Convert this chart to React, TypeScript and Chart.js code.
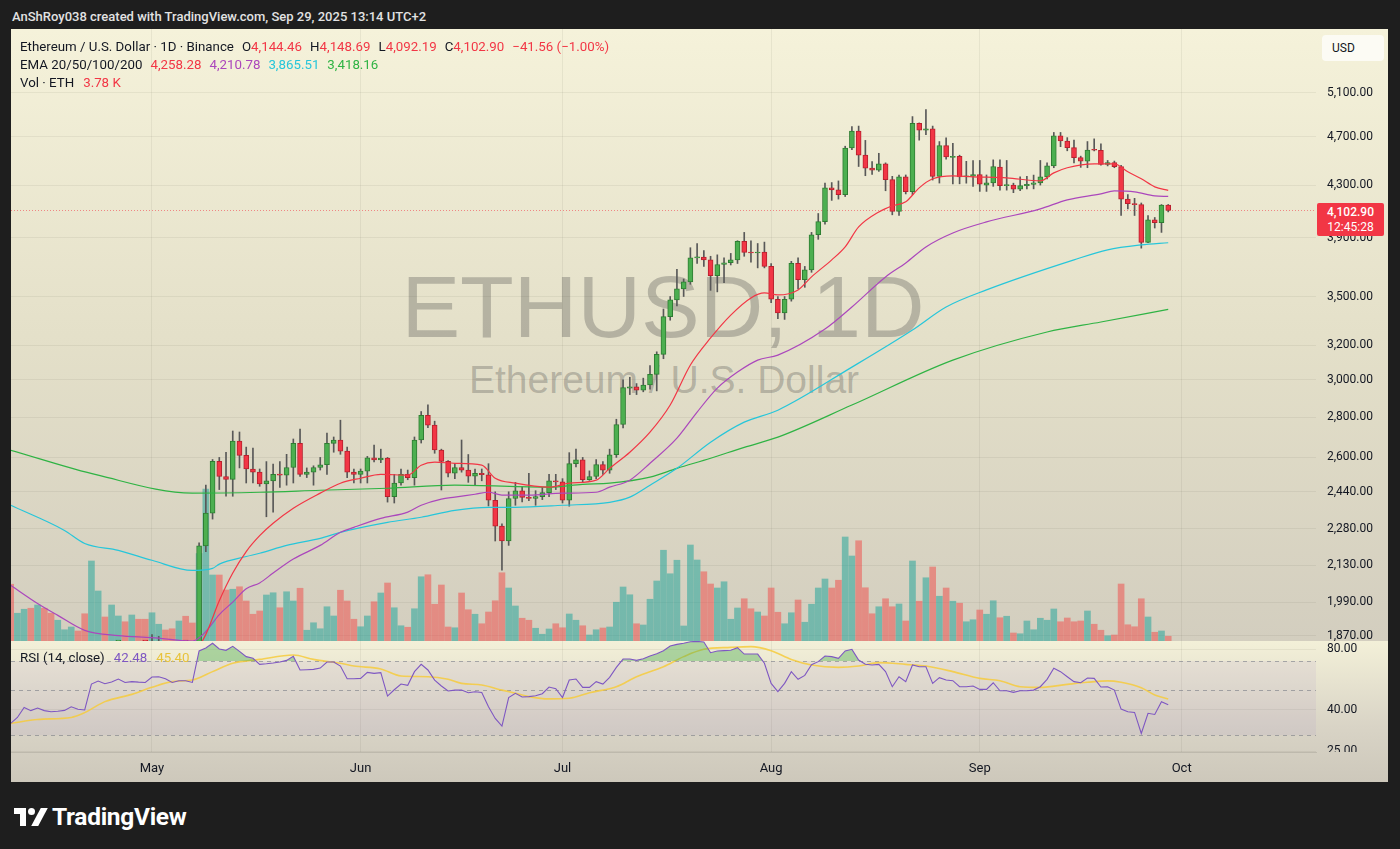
import React, { useEffect, useRef } from 'react';
import { Chart, registerables } from 'chart.js';

Chart.register(...registerables);

// Day index: 0 = 1 May 2025. First candle = 10 Apr 2025 (day -21), last = 29 Sep 2025 (day 151).
const FIRST_DAY = -21;

const opens = [
  1667, 1522, 1566, 1645, 1595, 1624, 1588, 1577, 1583, 1589,
  1613, 1587, 1578, 1757, 1796, 1770, 1787, 1790, 1785, 1799,
  1795, 1793, 1838, 1842, 1833, 1807, 1816, 1815, 1811, 2208,
  2346, 2581, 2510, 2497, 2680, 2610, 2545, 2530, 2476, 2490,
  2520, 2516, 2552, 2668, 2520, 2530, 2552, 2565, 2668, 2685,
  2630, 2530, 2520, 2535, 2598, 2588, 2597, 2418, 2480, 2520,
  2505, 2685, 2810, 2760, 2636, 2581, 2525, 2552, 2540, 2512,
  2525, 2518, 2402, 2290, 2228, 2410, 2444, 2415, 2410, 2418,
  2436, 2490, 2485, 2402, 2570, 2588, 2495, 2510, 2566, 2540,
  2613, 2763, 2955, 2962, 2944, 2972, 3031, 3145, 3372, 3478,
  3550, 3596, 3759, 3765, 3745, 3637, 3713, 3725, 3745, 3876,
  3797, 3793, 3800, 3700, 3482, 3396, 3482, 3722, 3611, 3677,
  3923, 4019, 4279, 4262, 4225, 4605, 4750, 4545, 4437, 4420,
  4472, 4344, 4096, 4366, 4248, 4820, 4760, 4770, 4369, 4625,
  4525, 4535, 4366, 4372, 4385, 4300, 4318, 4445, 4295, 4300,
  4268, 4296, 4305, 4318, 4366, 4455, 4709, 4665, 4608, 4523,
  4495, 4590, 4586, 4468, 4482, 4449, 4190, 4155, 4148, 3868,
  4032, 4012, 4144.46,
];
const highs = [
  1690, 1582, 1660, 1690, 1690, 1660, 1615, 1613, 1596, 1620,
  1617, 1659, 1785, 1830, 1800, 1826, 1830, 1840, 1830, 1840,
  1830, 1874, 1868, 1848, 1850, 1830, 1830, 1845, 2220, 2470,
  2590, 2600, 2625, 2730, 2725, 2650, 2645, 2545, 2580, 2568,
  2580, 2615, 2690, 2740, 2550, 2560, 2600, 2720, 2700, 2785,
  2650, 2545, 2545, 2605, 2660, 2640, 2600, 2520, 2545, 2540,
  2700, 2830, 2865, 2780, 2640, 2585, 2570, 2685, 2614, 2545,
  2545, 2570, 2440, 2300, 2440, 2483, 2462, 2525, 2445, 2460,
  2520, 2520, 2500, 2623, 2640, 2600, 2536, 2590, 2580, 2640,
  2790, 3000, 3015, 2980, 3010, 3080, 3160, 3420, 3500, 3680,
  3615, 3830, 3860, 3810, 3770, 3780, 3760, 3790, 3880, 3940,
  3880, 3860, 3870, 3720, 3500, 3500, 3735, 3760, 3700, 3940,
  4080, 4316, 4320, 4333, 4620, 4790, 4795, 4670, 4490, 4560,
  4480, 4370, 4380, 4381, 4880, 4823, 4943, 4795, 4660, 4692,
  4644, 4544, 4493, 4500, 4500, 4381, 4505, 4505, 4500, 4315,
  4365, 4370, 4380, 4500, 4480, 4739, 4739, 4694, 4673, 4536,
  4660, 4683, 4640, 4500, 4495, 4460, 4225, 4196, 4160, 4065,
  4050, 4148, 4148.69,
];
const lows = [
  1470, 1505, 1540, 1575, 1590, 1580, 1537, 1565, 1576, 1584,
  1565, 1555, 1566, 1750, 1740, 1745, 1780, 1770, 1740, 1780,
  1755, 1790, 1825, 1825, 1800, 1780, 1752, 1780, 1800, 2185,
  2320, 2450, 2420, 2420, 2550, 2480, 2480, 2465, 2330, 2350,
  2460, 2470, 2480, 2510, 2505, 2470, 2540, 2520, 2625, 2615,
  2505, 2480, 2480, 2480, 2578, 2575, 2394, 2390, 2470, 2495,
  2470, 2670, 2747, 2620, 2448, 2508, 2500, 2530, 2483, 2470,
  2490, 2377, 2228, 2111, 2210, 2380, 2395, 2400, 2380, 2405,
  2418, 2450, 2390, 2376, 2555, 2485, 2492, 2500, 2520, 2525,
  2600, 2745, 2920, 2920, 2935, 2950, 2940, 3120, 3350, 3440,
  3500, 3580, 3720, 3700, 3540, 3530, 3590, 3710, 3720, 3770,
  3730, 3690, 3690, 3460, 3360, 3355, 3470, 3550, 3560, 3660,
  3890, 4000, 4180, 4190, 4210, 4590, 4450, 4375, 4385, 4410,
  4255, 4070, 4065, 4230, 4225, 4672, 4720, 4340, 4316, 4510,
  4310, 4310, 4315, 4290, 4250, 4250, 4290, 4260, 4260, 4240,
  4255, 4270, 4270, 4300, 4350, 4440, 4616, 4581, 4480, 4443,
  4440, 4580, 4460, 4455, 4440, 4066, 4114, 4065, 3827, 3866,
  3972, 3940, 4092.19,
];
const closes = [
  1522, 1566, 1645, 1595, 1624, 1588, 1577, 1583, 1589, 1613,
  1587, 1578, 1757, 1796, 1770, 1787, 1790, 1785, 1799, 1795,
  1793, 1838, 1842, 1833, 1807, 1816, 1815, 1811, 2208, 2346,
  2581, 2510, 2497, 2680, 2610, 2545, 2530, 2476, 2490, 2520,
  2516, 2552, 2668, 2520, 2530, 2552, 2565, 2668, 2685, 2630,
  2530, 2520, 2535, 2598, 2588, 2597, 2418, 2480, 2520, 2505,
  2685, 2810, 2760, 2636, 2581, 2525, 2552, 2540, 2512, 2525,
  2518, 2402, 2290, 2228, 2410, 2444, 2415, 2410, 2418, 2436,
  2490, 2485, 2402, 2570, 2588, 2495, 2510, 2566, 2540, 2613,
  2763, 2958, 2962, 2944, 2972, 3031, 3145, 3372, 3478, 3550,
  3596, 3759, 3765, 3745, 3637, 3713, 3725, 3745, 3876, 3797,
  3793, 3800, 3700, 3482, 3396, 3482, 3722, 3611, 3677, 3923,
  4019, 4279, 4262, 4225, 4605, 4750, 4545, 4437, 4420, 4472,
  4344, 4096, 4366, 4248, 4820, 4760, 4770, 4369, 4625, 4530,
  4535, 4366, 4372, 4385, 4308, 4318, 4450, 4295, 4300, 4268,
  4296, 4305, 4318, 4366, 4455, 4709, 4665, 4608, 4523, 4495,
  4588, 4586, 4468, 4482, 4449, 4190, 4155, 4148, 3868, 4032,
  4012, 4144.46, 4102.9,
];
// Volume in thousands of ETH
const volumesK = [
  45.4, 22.2, 25.4, 26.2, 28.8, 26.2, 22.2, 16.6, 9.0, 11.2,
  8.0, 21.8, 64.0, 40.0, 19.2, 28.8, 20.0, 15.4, 20.8, 17.4,
  17.4, 22.6, 13.4, 8.8, 9.8, 16.0, 19.8, 14.4, 70.0, 121.6,
  52.8, 52.8, 40.8, 41.4, 43.4, 32.0, 21.4, 24.0, 36.8, 38.6,
  26.6, 39.4, 32.0, 42.2, 8.6, 14.6, 9.8, 27.4, 20.0, 40.6,
  32.0, 17.4, 11.4, 20.0, 31.4, 38.4, 46.4, 26.6, 12.2, 11.0,
  25.8, 51.4, 53.0, 29.4, 44.8, 11.2, 10.6, 38.4, 25.0, 21.4,
  13.8, 23.2, 32.2, 54.6, 42.4, 28.0, 18.2, 16.6, 10.2, 5.4,
  9.6, 13.8, 10.6, 21.6, 16.6, 12.2, 4.8, 9.0, 10.4, 11.2,
  31.0, 43.2, 37.0, 13.8, 12.8, 33.4, 48.0, 72.6, 53.8, 64.6,
  12.0, 76.8, 64.8, 55.4, 45.6, 42.4, 47.4, 17.4, 26.4, 33.8,
  25.8, 23.2, 20.0, 42.4, 23.0, 13.8, 22.6, 32.8, 15.0, 29.4,
  42.4, 49.6, 42.4, 48.6, 83.2, 68.0, 80.2, 42.6, 21.8, 27.4,
  33.8, 27.4, 29.6, 16.0, 64.0, 31.8, 50.6, 59.2, 35.8, 42.4,
  31.8, 30.2, 15.4, 17.0, 24.8, 21.4, 32.2, 18.6, 19.8, 6.4,
  5.8, 16.0, 9.0, 18.2, 16.6, 25.6, 15.4, 18.4, 15.4, 16.0,
  24.0, 13.4, 8.6, 4.2, 4.8, 45.6, 13.0, 11.4, 33.8, 19.2,
  7.0, 8.0, 3.78,
];
const rsi14 = [
  34.3, 36.7, 41.2, 39.7, 40.9, 39.7, 39.2, 39.4, 39.8, 41.5,
  40.3, 40.0, 53.8, 55.7, 54.0, 55.1, 57.0, 54.8, 55.3, 55.0,
  54.8, 58.3, 58.5, 57.2, 54.8, 55.9, 55.9, 54.8, 78.5, 81.2,
  85.7, 80.3, 79.1, 82.8, 78.2, 73.6, 72.2, 67.4, 67.8, 68.4,
  69.2, 70.5, 73.8, 63.2, 63.4, 63.6, 64.6, 69.2, 69.2, 66.1,
  57.2, 57.2, 57.4, 61.5, 60.8, 61.3, 46.9, 50.4, 53.8, 53.0,
  62.0, 67.4, 63.2, 56.3, 52.6, 49.7, 50.2, 50.2, 48.7, 49.3,
  48.9, 41.5, 36.3, 33.3, 46.1, 48.4, 46.4, 46.6, 47.1, 48.2,
  52.0, 51.0, 46.1, 56.3, 57.0, 51.8, 51.8, 55.3, 53.8, 58.1,
  65.1, 71.6, 71.6, 70.5, 71.9, 74.1, 76.0, 78.8, 83.1, 84.7,
  85.7, 87.3, 87.6, 87.0, 77.0, 78.5, 78.8, 79.1, 81.5, 75.8,
  75.8, 75.8, 68.2, 54.2, 49.3, 54.2, 62.0, 56.8, 59.4, 67.1,
  69.5, 74.1, 73.6, 72.2, 78.5, 80.0, 70.8, 67.4, 66.9, 67.4,
  62.0, 52.2, 58.5, 55.3, 66.9, 65.6, 65.6, 54.2, 57.9, 56.3,
  55.9, 52.2, 52.2, 52.6, 50.6, 50.6, 54.6, 49.8, 49.8, 48.9,
  49.8, 49.8, 50.2, 52.2, 56.8, 64.4, 62.0, 58.5, 55.3, 54.6,
  57.6, 57.4, 52.0, 52.2, 50.2, 40.4, 39.2, 38.9, 30.6, 38.5,
  38.0, 44.0, 42.48,
];
const rsiMaDays = [-21, -17, -12, -10, -7, -3, 0, 3, 6, 9, 12, 16, 21, 24, 28, 30, 34, 37, 41, 44, 46, 49, 52, 54, 56, 59, 62, 65, 69, 72, 76, 79, 82, 86, 89, 92, 95, 98, 102, 105, 108, 112, 115, 119, 123, 126, 129, 132, 136, 139, 142, 144, 147, 149, 151];
const rsiMaVals = [34.3, 35.9, 36.7, 38.8, 44.0, 47.8, 51.8, 55.3, 56.3, 62.0, 68.2, 71.3, 75.0, 71.3, 68.2, 66.1, 63.9, 59.0, 58.5, 56.8, 54.2, 53.2, 50.2, 48.4, 46.6, 45.4, 45.7, 48.7, 52.2, 58.5, 65.6, 73.6, 80.0, 81.8, 82.5, 78.8, 71.3, 66.9, 65.1, 66.1, 68.7, 67.4, 66.1, 62.0, 57.4, 55.9, 52.2, 51.8, 53.6, 54.9, 55.8, 54.9, 51.6, 47.5, 45.4];

const ema20Days = [-21, -10, -5, 0, 6, 8, 10, 12, 14, 16, 18, 21, 25, 28, 31, 34, 38, 40, 42, 45, 49, 51, 54, 59, 62, 66, 68, 71, 74, 77, 80, 83, 86, 89, 91, 93, 96, 98, 101, 103, 105, 108, 110, 112, 114, 116, 119, 122, 127, 132, 134, 136, 140, 143, 145, 147, 149, 151];
const ema20Vals = [1650, 1610, 1700, 1770, 1805, 1875, 1995, 2100, 2185, 2250, 2302, 2367, 2434, 2479, 2502, 2520, 2516, 2563, 2577, 2572, 2563, 2502, 2479, 2461, 2479, 2493, 2548, 2625, 2724, 2864, 3084, 3242, 3382, 3491, 3523, 3510, 3543, 3629, 3745, 3836, 3980, 4092, 4138, 4169, 4278, 4350, 4374, 4366, 4358, 4334, 4398, 4440, 4472, 4472, 4407, 4350, 4286, 4258.28];
const ema50Days = [-21, -17, -14, -10, -5, 0, 6, 8, 10, 12, 14, 16, 18, 21, 25, 28, 30, 34, 38, 40, 43, 45, 48, 50, 52, 56, 61, 66, 68, 71, 74, 78, 81, 84, 87, 90, 93, 100, 104, 109, 112, 115, 119, 124, 132, 136, 141, 143, 146, 149, 151];
const ema50Vals = [2053, 1985, 1942, 1889, 1871, 1864, 1852, 1885, 1945, 1990, 2040, 2062, 2100, 2155, 2210, 2264, 2285, 2323, 2350, 2380, 2407, 2416, 2429, 2438, 2425, 2425, 2434, 2438, 2461, 2493, 2572, 2694, 2827, 2955, 3044, 3112, 3141, 3296, 3433, 3629, 3724, 3836, 3936, 4017, 4115, 4184, 4231, 4254, 4247, 4215, 4210.78];
const ema100Days = [-21, -13, -10, -5, 0, 6, 9, 10, 14, 16, 20, 25, 28, 35, 40, 45, 50, 54, 61, 68, 71, 74, 78, 83, 88, 93, 104, 113, 118, 124, 137, 142, 147, 151];
const ema100Vals = [2380, 2272, 2218, 2190, 2150, 2110, 2118, 2135, 2165, 2178, 2210, 2239, 2264, 2306, 2328, 2358, 2371, 2371, 2380, 2393, 2416, 2470, 2548, 2674, 2775, 2837, 3072, 3290, 3433, 3543, 3745, 3815, 3850, 3865.51];
const ema200Days = [-21, -8, 6, 16, 25, 35, 45, 59, 64, 68, 74, 78, 83, 88, 93, 104, 119, 133, 141, 151];
const ema200Vals = [2635, 2516, 2434, 2438, 2447, 2456, 2470, 2461, 2474, 2479, 2507, 2548, 2596, 2649, 2699, 2864, 3112, 3278, 3339, 3418.16];

const monthDays = [0, 31, 61, 92, 123, 153];
const monthLabels = ['May', 'Jun', 'Jul', 'Aug', 'Sep', 'Oct'];
const priceTicks = [5100, 4700, 4300, 3900, 3500, 3200, 3000, 2800, 2600, 2440, 2280, 2130, 1990, 1870];
const rsiTicks = [80, 40, 25];
const rsiLevels = [70, 50, 30];

const X_MIN = -20.95;
const X_MAX = 172.96;
const PRICE_MIN = 1852.2;
const PRICE_MAX = 5736.9;
const VOL_MAX = 489.6;
const RSI_MIN = 24.74;
const RSI_MAX = 88.0;

const FONT = 'Roboto, "Noto Sans", Arial, sans-serif';
const TEXT = '#131722';
const UP = '#4caf50';
const DOWN = '#f23645';
const GRID = 'rgba(60,60,40,0.07)';

const fmtPrice = (v: number) =>
  v.toLocaleString('en-US', { minimumFractionDigits: 2, maximumFractionDigits: 2 });

const days = opens.map((_, i) => FIRST_DAY + i);
const isUp = closes.map((c, i) => c >= opens[i]);
const pts = (ds: number[], vs: number[]) => ds.map((d, i) => ({ x: d, y: vs[i] }));

const emaLine = (label: string, ds: number[], vs: number[], color: string, order: number) => ({
  type: 'line' as const,
  label,
  data: pts(ds, vs),
  borderColor: color,
  borderWidth: 1.2,
  pointRadius: 0,
  cubicInterpolationMode: 'monotone' as const,
  fill: false,
  yAxisID: 'y',
  order,
});

const mainPlugin = {
  id: 'mainDecor',
  beforeDatasetsDraw(chart: any) {
    const { ctx, chartArea: a, scales } = chart;
    const y = Math.round(scales.y.getPixelForValue(closes[closes.length - 1])) + 0.5;
    ctx.save();
    ctx.strokeStyle = 'rgba(242,54,69,0.55)';
    ctx.lineWidth = 1;
    ctx.setLineDash([1, 2]);
    ctx.beginPath();
    ctx.moveTo(a.left, y);
    ctx.lineTo(a.right, y);
    ctx.stroke();
    ctx.restore();
  },
  afterDraw(chart: any) {
    const { ctx, chartArea: a, scales } = chart;
    ctx.save();
    ctx.beginPath();
    ctx.rect(a.right, 0, chart.width - a.right, chart.height);
    ctx.clip();
    ctx.font = `12px ${FONT}`;
    ctx.fillStyle = TEXT;
    ctx.textAlign = 'left';
    ctx.textBaseline = 'middle';
    priceTicks.forEach((v) => ctx.fillText(fmtPrice(v), a.right + 11, scales.y.getPixelForValue(v)));
    ctx.restore();
  },
};

const rsiPlugin = {
  id: 'rsiDecor',
  beforeDatasetsDraw(chart: any) {
    const { ctx, chartArea: a, scales } = chart;
    const ys = scales.y;
    const y70 = ys.getPixelForValue(70);
    const y30 = ys.getPixelForValue(30);
    ctx.save();
    ctx.fillStyle = 'rgba(126,87,194,0.07)';
    ctx.fillRect(a.left, y70, a.right - a.left, y30 - y70);
    ctx.strokeStyle = 'rgba(120,123,134,0.6)';
    ctx.lineWidth = 1;
    ctx.setLineDash([4, 4]);
    rsiLevels.forEach((l) => {
      const y = Math.round(ys.getPixelForValue(l)) + 0.5;
      ctx.beginPath();
      ctx.moveTo(a.left, y);
      ctx.lineTo(a.right, y);
      ctx.stroke();
    });
    ctx.restore();
  },
  afterDraw(chart: any) {
    const { ctx, chartArea: a, scales } = chart;
    ctx.save();
    ctx.beginPath();
    ctx.rect(a.right, 0, chart.width - a.right, a.bottom);
    ctx.clip();
    ctx.font = `12px ${FONT}`;
    ctx.fillStyle = TEXT;
    ctx.textAlign = 'left';
    ctx.textBaseline = 'middle';
    rsiTicks.forEach((v) => ctx.fillText(v.toFixed(2), a.right + 11, scales.y.getPixelForValue(v)));
    ctx.restore();
    ctx.save();
    ctx.font = `13px ${FONT}`;
    ctx.fillStyle = TEXT;
    ctx.textAlign = 'center';
    ctx.textBaseline = 'middle';
    monthDays.forEach((d, i) => ctx.fillText(monthLabels[i], scales.x.getPixelForValue(d), a.bottom + 16.5));
    ctx.restore();
  },
};

export default function App() {
  const mainRef = useRef<HTMLCanvasElement | null>(null);
  const rsiRef = useRef<HTMLCanvasElement | null>(null);

  useEffect(() => {
    const xScale = (h: number) => ({
      type: 'linear' as const,
      min: X_MIN,
      max: X_MAX,
      offset: false,
      afterBuildTicks: (s: any) => {
        s.ticks = monthDays.map((v) => ({ value: v }));
      },
      ticks: { display: false },
      grid: { color: GRID, drawTicks: false, offset: false },
      border: { display: h > 0, color: 'rgba(0,0,0,0.1)' },
      afterFit: (s: any) => {
        s.height = h;
      },
    });

    const main = new Chart(mainRef.current as HTMLCanvasElement, {
      type: 'bar',
      data: {
        datasets: [
          emaLine('EMA 20', ema20Days, ema20Vals, '#f23645', 1),
          emaLine('EMA 50', ema50Days, ema50Vals, '#ab47bc', 2),
          emaLine('EMA 100', ema100Days, ema100Vals, '#26c6da', 3),
          emaLine('EMA 200', ema200Days, ema200Vals, '#2fb344', 4),
          {
            type: 'bar',
            label: 'Body',
            data: days.map((d, i) => ({ x: d, y: [Math.min(opens[i], closes[i]), Math.max(opens[i], closes[i])] })),
            backgroundColor: isUp.map((u) => (u ? UP : DOWN)),
            borderColor: isUp.map((u) => (u ? '#2e7d32' : '#b8202e')),
            borderWidth: 1,
            borderSkipped: false,
            barThickness: 5,
            minBarLength: 1,
            grouped: false,
            yAxisID: 'y',
            order: 5,
          } as any,
          {
            type: 'bar',
            label: 'Wick',
            data: days.map((d, i) => ({ x: d, y: [lows[i], highs[i]] })),
            backgroundColor: '#585858',
            barThickness: 1,
            grouped: false,
            yAxisID: 'y',
            order: 6,
          } as any,
          {
            type: 'bar',
            label: 'Volume',
            data: days.map((d, i) => ({ x: d, y: volumesK[i] })),
            backgroundColor: isUp.map((u) => (u ? 'rgba(38,166,154,0.55)' : 'rgba(239,83,80,0.55)')),
            barThickness: 6,
            grouped: false,
            yAxisID: 'yv',
            order: 10,
          } as any,
        ],
      },
      options: {
        responsive: false,
        animation: false,
        devicePixelRatio: 1,
        events: [],
        layout: { padding: 0 },
        plugins: { legend: { display: false }, tooltip: { enabled: false } },
        scales: {
          x: xScale(0) as any,
          y: {
            type: 'logarithmic',
            position: 'right',
            min: PRICE_MIN,
            max: PRICE_MAX,
            afterBuildTicks: (s: any) => {
              s.ticks = priceTicks.map((v) => ({ value: v }));
            },
            ticks: { display: false },
            grid: { color: GRID, drawTicks: false },
            border: { display: false },
            afterFit: (s: any) => {
              s.width = 72;
            },
          } as any,
          yv: { type: 'linear', display: false, min: 0, max: VOL_MAX },
        },
      },
      plugins: [mainPlugin],
    });

    const rsi = new Chart(rsiRef.current as HTMLCanvasElement, {
      type: 'line',
      data: {
        datasets: [
          {
            label: 'RSI',
            data: days.map((d, i) => ({ x: d, y: rsi14[i] })),
            borderColor: '#7e57c2',
            borderWidth: 1.1,
            pointRadius: 0,
            fill: { target: { value: 70 }, above: 'rgba(76,175,80,0.42)', below: 'rgba(0,0,0,0)' },
            order: 1,
          } as any,
          {
            label: 'RSI-based MA',
            data: pts(rsiMaDays, rsiMaVals),
            borderColor: 'rgba(246,203,60,0.85)',
            borderWidth: 1.6,
            pointRadius: 0,
            cubicInterpolationMode: 'monotone',
            fill: false,
            order: 2,
          } as any,
        ],
      },
      options: {
        responsive: false,
        animation: false,
        devicePixelRatio: 1,
        events: [],
        layout: { padding: 0 },
        plugins: { legend: { display: false }, tooltip: { enabled: false } },
        scales: {
          x: xScale(30) as any,
          y: {
            type: 'logarithmic',
            position: 'right',
            min: RSI_MIN,
            max: RSI_MAX,
            afterBuildTicks: (s: any) => {
              s.ticks = rsiTicks.map((v) => ({ value: v }));
            },
            ticks: { display: false },
            grid: { color: GRID, drawTicks: false },
            border: { display: false },
            afterFit: (s: any) => {
              s.width = 72;
            },
          } as any,
        },
      },
      plugins: [rsiPlugin],
    });

    return () => {
      main.destroy();
      rsi.destroy();
    };
  }, []);

  const abs = (l: number, t: number, extra: React.CSSProperties = {}): React.CSSProperties => ({
    position: 'absolute',
    left: l,
    top: t,
    ...extra,
  });
  const red: React.CSSProperties = { color: '#f23645' };
  const gap = (px: number): React.CSSProperties => ({ marginLeft: px });
  const legendFont: React.CSSProperties = { fontFamily: FONT, fontSize: 13.3, color: TEXT, whiteSpace: 'pre', lineHeight: '17px' };

  return (
    <div style={{ position: 'fixed', left: 0, top: 0, width: 1400, height: 849, background: '#1e1e1e', overflow: 'hidden', fontFamily: FONT }}>
      <div style={abs(12, 7, { color: '#e2e2e2', fontSize: 13, fontWeight: 500, lineHeight: '20px', whiteSpace: 'pre' })}>
        AnShRoy038 created with TradingView.com, Sep 29, 2025 13:14 UTC+2
      </div>

      {/* panes */}
      <div style={abs(11, 29, { width: 1377, height: 612, background: 'linear-gradient(180deg, #f5f2da 0%, #e4e0c9 50%, #d3cebf 100%)' })} />
      <div style={abs(11, 641, { width: 1377, height: 141, background: 'linear-gradient(180deg, #f3f0d8 0%, #d9d4c6 60%, #cdc8bb 100%)' })} />

      {/* watermark */}
      <div style={abs(313, 263, { width: 700, textAlign: 'center', fontFamily: '"Liberation Sans", Arial, sans-serif', fontSize: 88, lineHeight: '88px', color: 'rgba(70,70,70,0.3)', whiteSpace: 'pre' })}>
        ETHUSD, 1D
      </div>
      <div style={abs(364, 360, { width: 600, textAlign: 'center', fontFamily: '"Liberation Sans", Arial, sans-serif', fontSize: 39, lineHeight: '39px', color: 'rgba(70,70,70,0.3)', whiteSpace: 'pre' })}>
        Ethereum / U.S. Dollar
      </div>

      <canvas ref={mainRef} width={1377} height={612} style={abs(11, 29, { width: 1377, height: 612 })} />
      <canvas ref={rsiRef} width={1377} height={141} style={abs(11, 641, { width: 1377, height: 141 })} />

      {/* legends */}
      <div style={abs(20, 38, legendFont)}>
        <span>Ethereum / U.S. Dollar · 1D · Binance</span>
        <span style={gap(8)}>O</span><span style={red}>4,144.46</span>
        <span style={gap(8)}>H</span><span style={red}>4,148.69</span>
        <span style={gap(8)}>L</span><span style={red}>4,092.19</span>
        <span style={gap(8)}>C</span><span style={red}>4,102.90</span>
        <span style={{ ...red, marginLeft: 8 }}>−41.56 (−1.00%)</span>
      </div>
      <div style={abs(20, 56, legendFont)}>
        <span>EMA 20/50/100/200</span>
        <span style={{ color: '#f23645', marginLeft: 8 }}>4,258.28</span>
        <span style={{ color: '#ab47bc', marginLeft: 8 }}>4,210.78</span>
        <span style={{ color: '#26c6da', marginLeft: 8 }}>3,865.51</span>
        <span style={{ color: '#2fb344', marginLeft: 8 }}>3,418.16</span>
      </div>
      <div style={abs(20, 74, legendFont)}>
        <span>Vol · ETH</span>
        <span style={{ ...red, marginLeft: 9 }}>3.78 K</span>
      </div>
      <div style={abs(20, 649, legendFont)}>
        <span>RSI (14, close)</span>
        <span style={{ color: '#7e57c2', marginLeft: 9 }}>42.48</span>
        <span style={{ color: '#e8c33a', marginLeft: 9 }}>45.40</span>
      </div>

      {/* price axis widgets */}
      <div style={abs(1322, 35, { width: 62, height: 26, background: '#fcfbf4', borderRadius: 4, fontSize: 12, lineHeight: '26px', color: TEXT, paddingLeft: 10, boxSizing: 'border-box' })}>
        USD
      </div>
      <div style={abs(1317, 203, { width: 67, height: 33, background: '#f23645', borderRadius: 2, color: '#fff', fontSize: 12, lineHeight: '15px', textAlign: 'center', paddingTop: 2, boxSizing: 'border-box' })}>
        <div style={{ fontWeight: 500 }}>4,102.90</div>
        <div>12:45:28</div>
      </div>

      {/* TradingView logo */}
      <div style={abs(14, 808, { width: 12, height: 6, background: '#fff' })} />
      <div style={abs(20, 808, { width: 6, height: 18, background: '#fff' })} />
      <div style={abs(28, 808, { width: 7, height: 7, background: '#fff', borderRadius: '50%' })} />
      <div style={abs(36, 808, { width: 7, height: 18, background: '#fff', transform: 'skewX(-28deg)' })} />
      <div style={abs(52, 802, { color: '#fff', fontSize: 24.5, fontWeight: 700, lineHeight: '30px', letterSpacing: -0.3 })}>TradingView</div>
    </div>
  );
}
